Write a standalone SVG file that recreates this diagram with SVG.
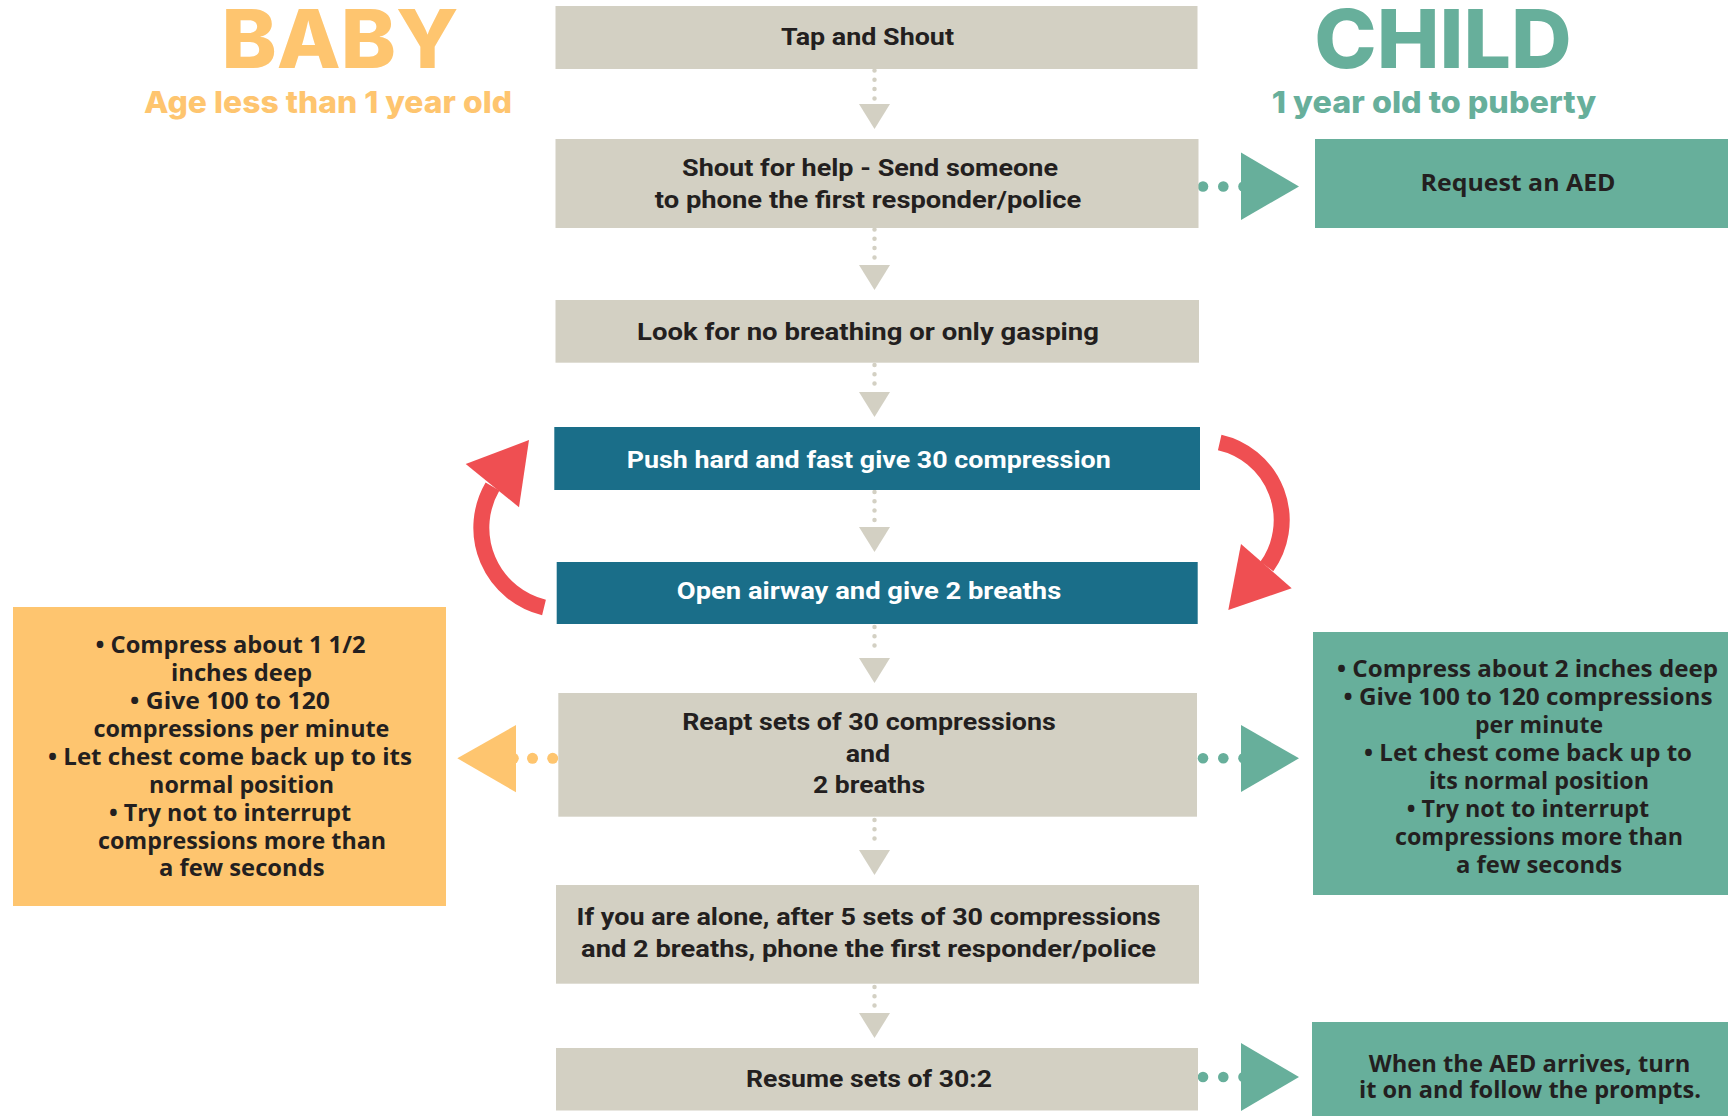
<svg xmlns="http://www.w3.org/2000/svg" width="1728" height="1116" viewBox="0 0 1728 1116">
  <style>
    .step { fill: #D3D0C3; }
    .key { fill: #1A6E89; }
    .child { fill: #67AF9B; }
    .baby { fill: #FEC56F; }
    .t { font-family: Roboto, "Liberation Sans", sans-serif; font-weight: 700; font-size: 24px; fill: #231F20; text-anchor: middle; }
    .tw { fill: #FFFFFF; }
    .s { font-family: "Open Sans", "Liberation Sans", sans-serif; font-weight: 700; font-size: 23px; fill: #231F20; text-anchor: middle; }
    .h { font-family: Inter, "Open Sans", sans-serif; font-weight: 800; text-anchor: middle; }
    .dots { fill: none; stroke: #D3D0C3; stroke-width: 4.5; stroke-linecap: round; stroke-dasharray: 0 9.3; }
    .ghead { fill: #D3D0C3; }
    .loop { fill: none; stroke: #EF4F52; stroke-width: 16; }
    .loophead { fill: #EF4F52; }
  </style>

  <!-- column headings -->
  <g id="heading-baby">
    <text class="h" x="340" y="67.7" font-size="81" fill="#FEC56F" textLength="237" lengthAdjust="spacingAndGlyphs">BABY</text>
    <text class="h" x="328" y="112.7" font-size="30" fill="#FEC56F" textLength="368" lengthAdjust="spacingAndGlyphs">Age less than 1 year old</text>
  </g>
  <g id="heading-child">
    <text class="h" x="1443" y="68.3" font-size="81" fill="#67AF9B" textLength="257.6" lengthAdjust="spacingAndGlyphs">CHILD</text>
    <text class="h" x="1434" y="112.7" font-size="30" fill="#67AF9B" textLength="324.4" lengthAdjust="spacingAndGlyphs">1 year old to puberty</text>
  </g>

  <!-- connectors -->
  <g id="connectors">
    <!-- vertical flow: dotted stem + downward head -->
    <line class="dots" x1="874.5" y1="70.5" x2="874.5" y2="99"/>
    <polygon class="ghead" points="859,104 890,104 874.5,129"/>
    <line class="dots" x1="874.5" y1="229.5" x2="874.5" y2="260"/>
    <polygon class="ghead" points="859,265 890,265 874.5,290"/>
    <line class="dots" x1="874.5" y1="365" x2="874.5" y2="387"/>
    <polygon class="ghead" points="859,392 890,392 874.5,417"/>
    <line class="dots" x1="874.5" y1="492" x2="874.5" y2="521"/>
    <polygon class="ghead" points="859,527 890,527 874.5,552"/>
    <line class="dots" x1="874.5" y1="627" x2="874.5" y2="653"/>
    <polygon class="ghead" points="859,658 890,658 874.5,683"/>
    <line class="dots" x1="874.5" y1="820" x2="874.5" y2="845"/>
    <polygon class="ghead" points="859,850 890,850 874.5,875"/>
    <line class="dots" x1="874.5" y1="987" x2="874.5" y2="1008"/>
    <polygon class="ghead" points="859,1013 890,1013 874.5,1038"/>

    <!-- side branches to the child column -->
    <g fill="#67AF9B">
      <circle cx="1203" cy="186.5" r="5.3"/>
      <circle cx="1223.3" cy="186.5" r="5.3"/>
      <circle cx="1243.5" cy="186.5" r="5.3"/>
      <polygon points="1241,152.5 1241,220 1299,186.5"/>

      <circle cx="1203" cy="758.3" r="5.3"/>
      <circle cx="1223.3" cy="758.3" r="5.3"/>
      <circle cx="1243.5" cy="758.3" r="5.3"/>
      <polygon points="1241,725 1241,792 1299,758.3"/>

      <circle cx="1203" cy="1077" r="5.3"/>
      <circle cx="1223.3" cy="1077" r="5.3"/>
      <circle cx="1243.5" cy="1077" r="5.3"/>
      <polygon points="1241,1043 1241,1111 1299,1077"/>
    </g>

    <!-- side branch to the baby column -->
    <g fill="#FEC56F">
      <circle cx="552.7" cy="758.3" r="5.5"/>
      <circle cx="532.5" cy="758.3" r="5.5"/>
      <circle cx="513.3" cy="758.3" r="5.5"/>
      <polygon points="516,725 516,792.3 457.3,758.3"/>
    </g>

    <!-- compression / breath loop -->
    <path class="loop" d="M 544 607.5 A 82 82 0 0 1 492.5 486.5"/>
    <polygon class="loophead" points="465.7,464 529,440 519,507.3"/>
    <path class="loop" d="M 1219.7 442.5 A 79.6 79.6 0 0 1 1266.8 566.5"/>
    <polygon class="loophead" points="1241,544 1291.7,588.3 1228.3,610"/>
  </g>

  <!-- main sequence -->
  <g id="step-tap">
    <rect class="step" x="555.5" y="6" width="642" height="63"/>
    <text class="t" x="867.5" y="45" textLength="173" lengthAdjust="spacingAndGlyphs">Tap and Shout</text>
  </g>
  <g id="step-shout">
    <rect class="step" x="555.5" y="139" width="643" height="89"/>
    <text class="t" x="870" y="175.5" textLength="376" lengthAdjust="spacingAndGlyphs">Shout for help - Send someone</text>
    <text class="t" x="868" y="207.5" textLength="426.5" lengthAdjust="spacingAndGlyphs">to phone the first responder/police</text>
  </g>
  <g id="step-look">
    <rect class="step" x="555.5" y="300" width="643.5" height="62.7"/>
    <text class="t" x="868" y="340" textLength="462" lengthAdjust="spacingAndGlyphs">Look for no breathing or only gasping</text>
  </g>
  <g id="step-push">
    <rect class="key" x="554.3" y="427" width="645.7" height="63"/>
    <text class="t tw" x="868.7" y="467.5" textLength="484" lengthAdjust="spacingAndGlyphs">Push hard and fast give 30 compression</text>
  </g>
  <g id="step-airway">
    <rect class="key" x="556.7" y="562" width="641" height="62"/>
    <text class="t tw" x="869" y="599" textLength="384.4" lengthAdjust="spacingAndGlyphs">Open airway and give 2 breaths</text>
  </g>
  <g id="step-repeat">
    <rect class="step" x="558.3" y="693" width="638.7" height="123.7"/>
    <text class="t" x="869" y="730" textLength="373.6" lengthAdjust="spacingAndGlyphs">Reapt sets of 30 compressions</text>
    <text class="t" x="868" y="761.7" textLength="44.4" lengthAdjust="spacingAndGlyphs">and</text>
    <text class="t" x="869" y="793" textLength="112" lengthAdjust="spacingAndGlyphs">2 breaths</text>
  </g>
  <g id="step-alone">
    <rect class="step" x="556" y="885" width="643" height="98.7"/>
    <text class="t" x="868.6" y="925" textLength="584" lengthAdjust="spacingAndGlyphs">If you are alone, after 5 sets of 30 compressions</text>
    <text class="t" x="868.6" y="956.7" textLength="575" lengthAdjust="spacingAndGlyphs">and 2 breaths, phone the first responder/police</text>
  </g>
  <g id="step-resume">
    <rect class="step" x="556" y="1048" width="642" height="62.5"/>
    <text class="t" x="869" y="1087" textLength="246" lengthAdjust="spacingAndGlyphs">Resume sets of 30:2</text>
  </g>

  <!-- child column -->
  <g id="child-aed">
    <rect class="child" x="1315" y="139" width="413" height="89"/>
    <text class="s" x="1518" y="191" textLength="195" lengthAdjust="spacingAndGlyphs">Request an AED</text>
  </g>
  <g id="child-notes">
    <rect class="child" x="1313" y="632" width="415" height="263"/>
    <text class="s" x="1527.5" y="677" textLength="381" lengthAdjust="spacingAndGlyphs">• Compress about 2 inches deep</text>
    <text class="s" x="1528" y="705" textLength="369" lengthAdjust="spacingAndGlyphs">• Give 100 to 120 compressions</text>
    <text class="s" x="1539" y="733" textLength="128" lengthAdjust="spacingAndGlyphs">per minute</text>
    <text class="s" x="1528" y="761" textLength="328" lengthAdjust="spacingAndGlyphs">• Let chest come back up to</text>
    <text class="s" x="1539" y="789" textLength="220" lengthAdjust="spacingAndGlyphs">its normal position</text>
    <text class="s" x="1528" y="817" textLength="242.5" lengthAdjust="spacingAndGlyphs">• Try not to interrupt</text>
    <text class="s" x="1539" y="845" textLength="288" lengthAdjust="spacingAndGlyphs">compressions more than</text>
    <text class="s" x="1539" y="873" textLength="166" lengthAdjust="spacingAndGlyphs">a few seconds</text>
  </g>
  <g id="child-aed-arrives">
    <rect class="child" x="1312" y="1022" width="416" height="94"/>
    <text class="s" x="1529.5" y="1071.5" textLength="321.6" lengthAdjust="spacingAndGlyphs">When the AED arrives, turn</text>
    <text class="s" x="1530" y="1097.5" textLength="342" lengthAdjust="spacingAndGlyphs">it on and follow the prompts.</text>
  </g>

  <!-- baby column -->
  <g id="baby-notes">
    <rect class="baby" x="13" y="607" width="433" height="299"/>
    <text class="s" x="230.5" y="653" textLength="270" lengthAdjust="spacingAndGlyphs">• Compress about 1 1/2</text>
    <text class="s" x="241.5" y="681" textLength="141" lengthAdjust="spacingAndGlyphs">inches deep</text>
    <text class="s" x="230" y="709" textLength="200" lengthAdjust="spacingAndGlyphs">• Give 100 to 120</text>
    <text class="s" x="241.4" y="737" textLength="296" lengthAdjust="spacingAndGlyphs">compressions per minute</text>
    <text class="s" x="230" y="765" textLength="364" lengthAdjust="spacingAndGlyphs">• Let chest come back up to its</text>
    <text class="s" x="241.6" y="792.5" textLength="185" lengthAdjust="spacingAndGlyphs">normal position</text>
    <text class="s" x="230" y="820.5" textLength="242" lengthAdjust="spacingAndGlyphs">• Try not to interrupt</text>
    <text class="s" x="242" y="848.5" textLength="288" lengthAdjust="spacingAndGlyphs">compressions more than</text>
    <text class="s" x="241.8" y="876.3" textLength="165.5" lengthAdjust="spacingAndGlyphs">a few seconds</text>
  </g>
</svg>
